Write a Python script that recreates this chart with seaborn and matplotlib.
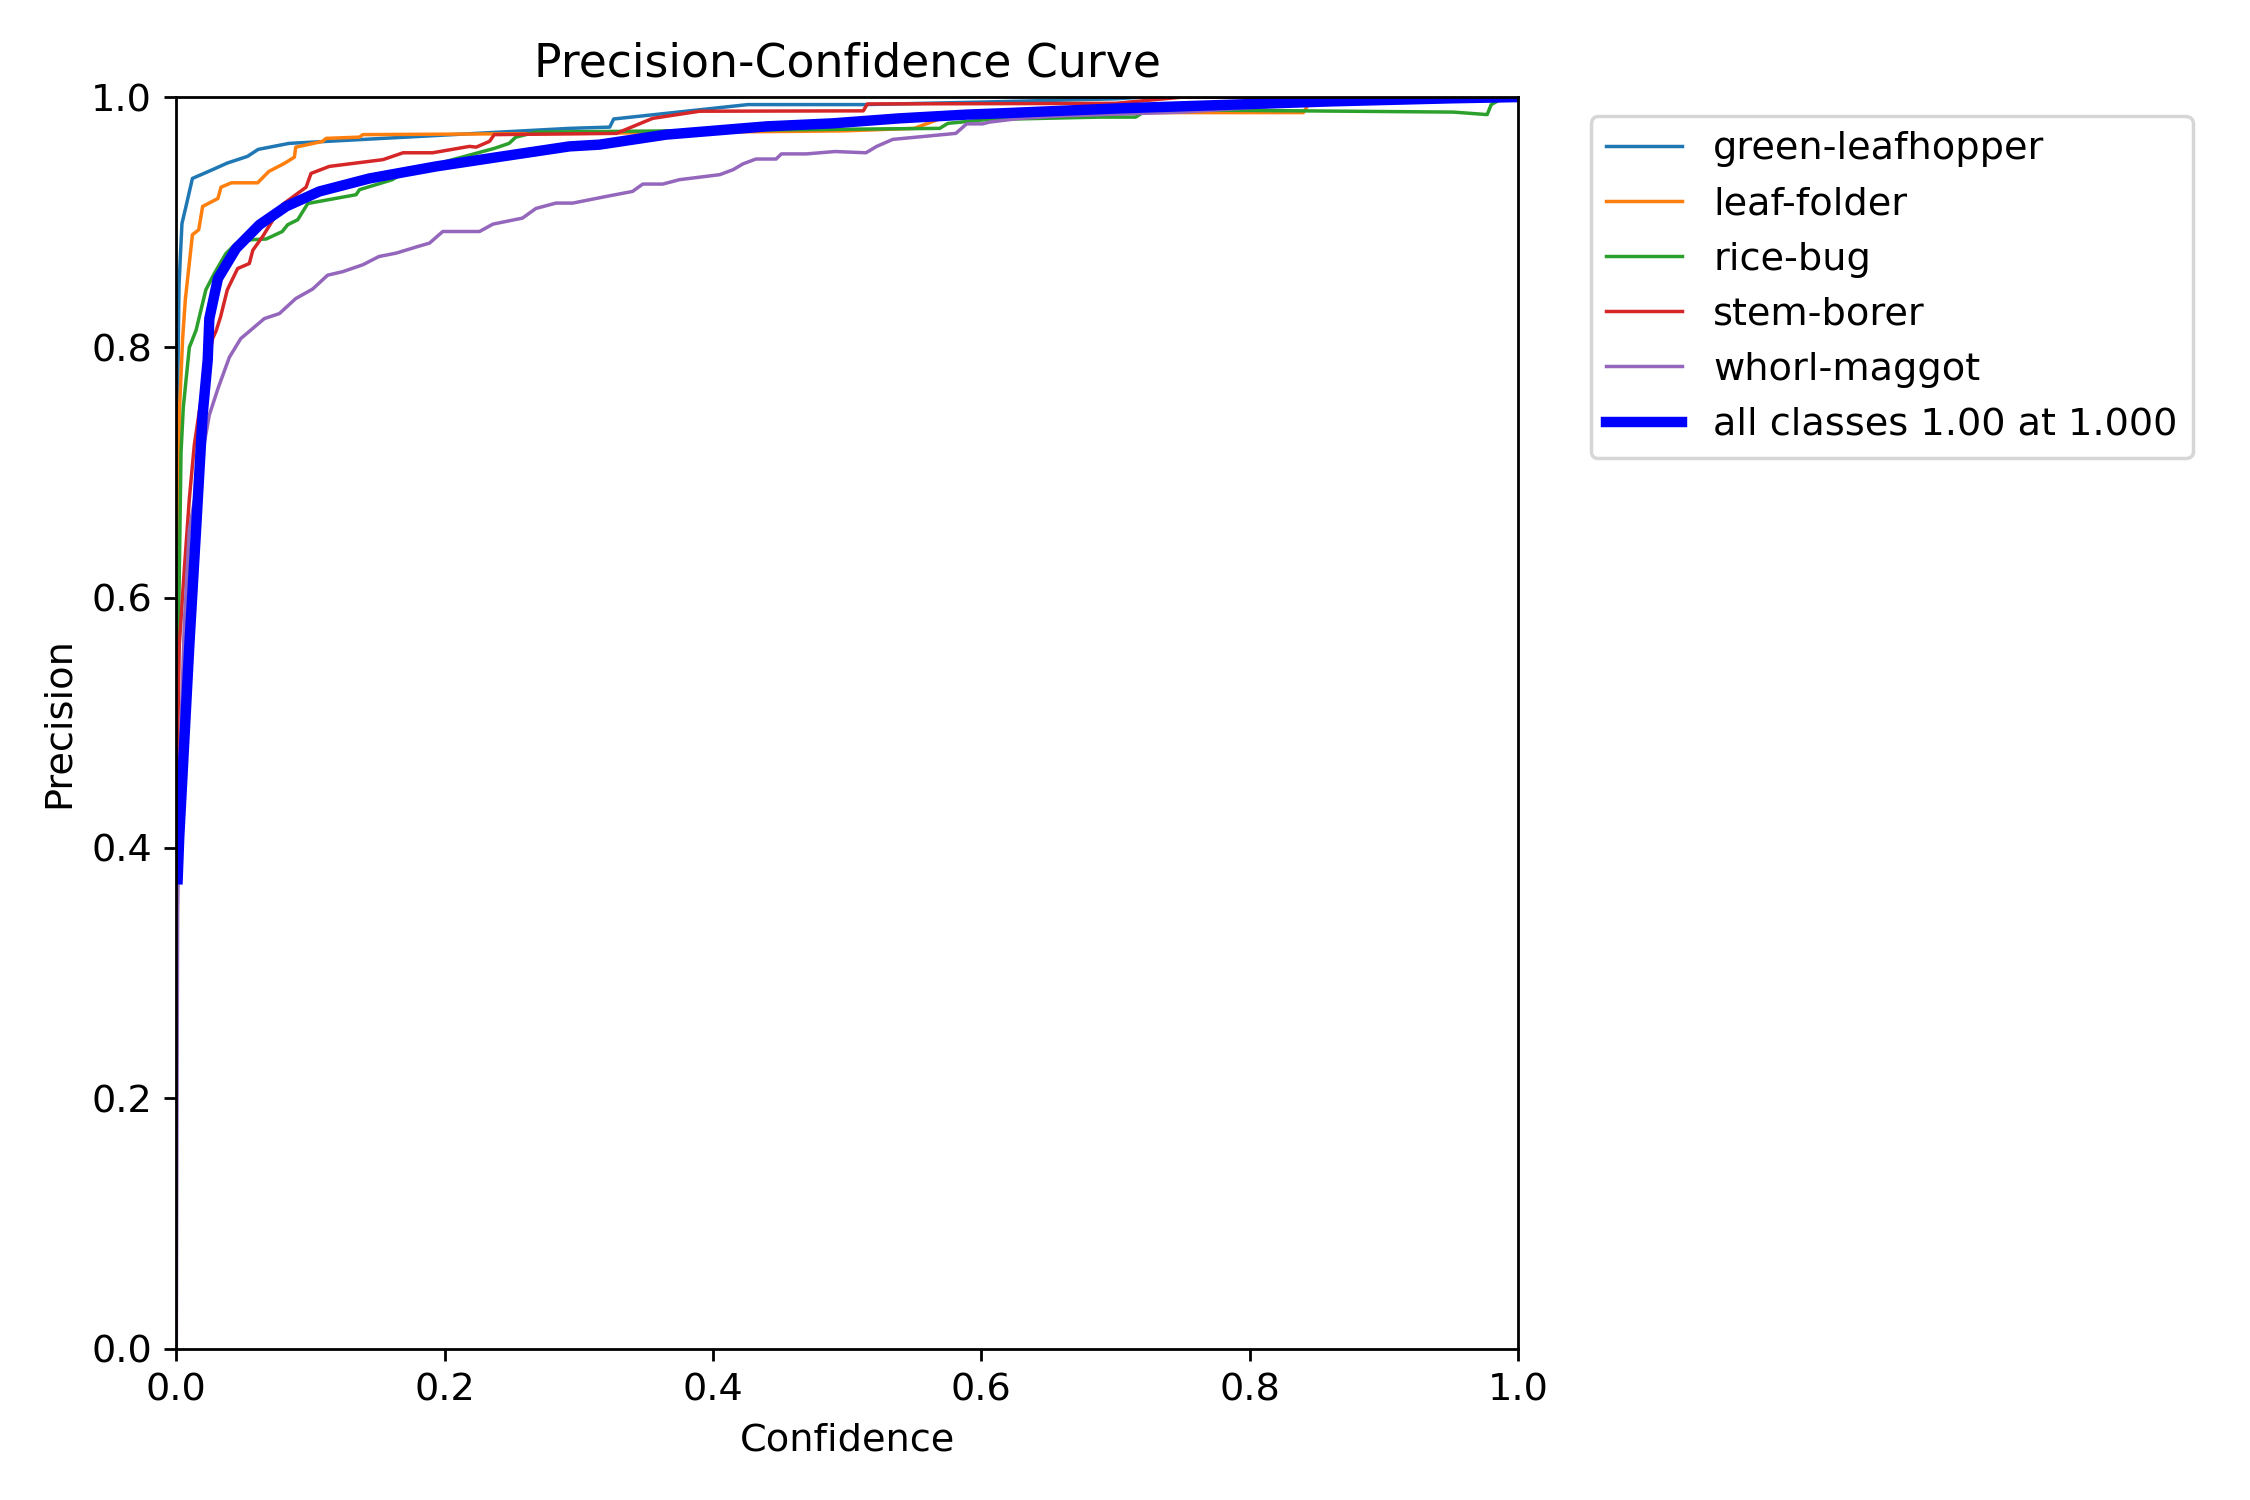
import matplotlib
matplotlib.use('Agg')
import matplotlib.pyplot as plt
import seaborn as sns

# Curvas (confiança, precisão)
classes = ['green-leafhopper', 'leaf-folder', 'rice-bug', 'stem-borer', 'whorl-maggot']
cores = ['#1f77b4', '#ff7f0e', '#2ca02c', '#d62728', '#9467bd']

gl_x = [0.0, 0.0008, 0.002, 0.0042, 0.0072, 0.012, 0.027, 0.038, 0.053, 0.061, 0.084, 0.119,
        0.293, 0.323, 0.326, 0.426, 0.513, 0.60, 0.70, 0.72, 1.0]
gl_y = [0.55, 0.75, 0.85, 0.899, 0.9126, 0.935, 0.942, 0.9473, 0.9526, 0.9582, 0.963, 0.965,
        0.975, 0.976, 0.9825, 0.994, 0.994, 0.996, 0.9986, 1.0, 1.0]

lf_x = [0.0, 0.0017, 0.0022, 0.0047, 0.0067, 0.012, 0.0167, 0.0196, 0.031, 0.0333, 0.041, 0.0606,
        0.069, 0.0805, 0.088, 0.089, 0.109, 0.1116, 0.1365, 0.139, 0.30, 0.497, 0.55, 0.58,
        0.74, 0.84, 0.846, 1.0]
lf_y = [0.55, 0.685, 0.746, 0.807, 0.838, 0.89, 0.894, 0.9126, 0.919, 0.928, 0.9315, 0.9315,
        0.9406, 0.947, 0.952, 0.96, 0.9646, 0.967, 0.968, 0.970, 0.971, 0.973, 0.975, 0.987,
        0.9876, 0.9876, 0.998, 1.0]

rb_x = [0.0, 0.0035, 0.0052, 0.0097, 0.0147, 0.0184, 0.022, 0.0283, 0.037, 0.0445, 0.0557, 0.067,
        0.079, 0.083, 0.0905, 0.098, 0.134, 0.1365, 0.161, 0.169, 0.237, 0.248, 0.253, 0.268,
        0.569, 0.575, 0.604, 0.688, 0.715, 0.724, 0.952, 0.977, 0.980, 0.99, 1.0]
rb_y = [0.45, 0.716, 0.752, 0.80, 0.8136, 0.83, 0.846, 0.859, 0.875, 0.883, 0.886, 0.8866,
        0.8926, 0.898, 0.902, 0.915, 0.922, 0.926, 0.934, 0.9393, 0.959, 0.963, 0.968, 0.972,
        0.975, 0.979, 0.982, 0.984, 0.984, 0.990, 0.988, 0.986, 0.994, 1.0, 1.0]

sb_x = [0.0, 0.001, 0.0022, 0.006, 0.0097, 0.0134, 0.0184, 0.027, 0.0296, 0.033, 0.038, 0.0457,
        0.0544, 0.057, 0.0644, 0.079, 0.0967, 0.1004, 0.114, 0.154, 0.169, 0.191, 0.2185, 0.2235,
        0.2334, 0.237, 0.328, 0.355, 0.39, 0.512, 0.515, 0.70, 0.75, 1.0]
sb_y = [0.40, 0.486, 0.562, 0.623, 0.679, 0.722, 0.758, 0.807, 0.813, 0.8245, 0.846, 0.863,
        0.867, 0.8776, 0.8887, 0.914, 0.928, 0.939, 0.9446, 0.950, 0.9555, 0.9555, 0.9606, 0.960,
        0.9646, 0.970, 0.971, 0.983, 0.9887, 0.989, 0.9945, 0.995, 1.0, 1.0]

wm_x = [0.0, 0.0005, 0.001, 0.003, 0.006, 0.0097, 0.0196, 0.0246, 0.031, 0.0395, 0.048, 0.0656,
        0.0768, 0.089, 0.1016, 0.1128, 0.124, 0.139, 0.151, 0.1638, 0.18, 0.1887, 0.1986, 0.226,
        0.236, 0.258, 0.268, 0.283, 0.2955, 0.3204, 0.340, 0.3477, 0.3626, 0.375, 0.405, 0.415,
        0.4223, 0.432, 0.447, 0.451, 0.4696, 0.491, 0.514, 0.522, 0.534, 0.581, 0.589, 0.601,
        0.606, 0.629, 0.66, 0.75, 0.85, 1.0]
wm_y = [0.0, 0.2, 0.35, 0.48, 0.58, 0.654, 0.716, 0.746, 0.767, 0.792, 0.807, 0.823,
        0.827, 0.839, 0.8466, 0.8577, 0.8605, 0.866, 0.8726, 0.8753, 0.8806, 0.8833, 0.8926, 0.8926,
        0.8985, 0.9033, 0.911, 0.9153, 0.9153, 0.9206, 0.9246, 0.9305, 0.9305, 0.934, 0.938, 0.942,
        0.9466, 0.9505, 0.9505, 0.9546, 0.9546, 0.9565, 0.9555, 0.9606, 0.9662, 0.971, 0.9786, 0.9786,
        0.980, 0.983, 0.985, 0.988, 0.995, 1.0]

all_x = [0.001, 0.0022, 0.0097, 0.0147, 0.0196, 0.0234, 0.0246, 0.031, 0.0445, 0.062, 0.0818,
         0.1066, 0.144, 0.1936, 0.243, 0.293, 0.3154, 0.365, 0.44, 0.489, 0.539, 0.589, 0.614,
         0.703, 0.862, 0.95, 1.0]
all_y = [0.375, 0.409, 0.562, 0.654, 0.746, 0.790, 0.823, 0.855, 0.879, 0.898, 0.9126,
         0.9246, 0.935, 0.9446, 0.9526, 0.9606, 0.962, 0.970, 0.9766, 0.979, 0.983, 0.986, 0.987,
         0.991, 0.9966, 0.999, 1.0]

curvas = [(gl_x, gl_y), (lf_x, lf_y), (rb_x, rb_y), (sb_x, sb_y), (wm_x, wm_y)]

plt.rcParams['font.size'] = 11

fig, ax = plt.subplots(1, 1, figsize=(9, 6), tight_layout=True)

for nome, cor, (cx, cy) in zip(classes, cores, curvas):
    sns.lineplot(x=cx, y=cy, ax=ax, color=cor, linewidth=1, label=nome,
                 estimator=None, sort=False)

sns.lineplot(x=all_x, y=all_y, ax=ax, color='blue', linewidth=3,
             label='all classes 1.00 at 1.000', estimator=None, sort=False)

ax.set_xlabel('Confidence')
ax.set_ylabel('Precision')
ax.set_xlim(0, 1)
ax.set_ylim(0, 1)
ax.legend(bbox_to_anchor=(1.04, 1), loc='upper left')
ax.set_title('Precision-Confidence Curve')

fig.savefig('out.png', dpi=250)
